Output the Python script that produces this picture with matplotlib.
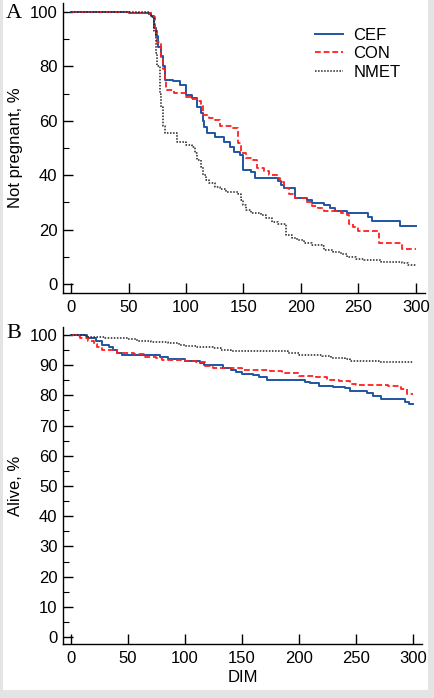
import matplotlib.pyplot as plt
from matplotlib.patches import Rectangle
from matplotlib.ticker import MultipleLocator

# Panel A: not pregnant (%) vs DIM
a_cef_x = [0, 50, 70, 72, 74, 76, 78, 80, 82, 89, 95, 100, 105, 110, 113, 115, 116, 118, 125,
           133, 138, 142, 147, 150, 157, 160, 180, 183, 185, 195, 205, 210, 220, 225, 230, 240,
           258, 262, 286, 300]
a_cef_y = [100, 99.5, 98.5, 94, 91, 87, 84, 80, 75, 74.5, 73, 69.5, 68.5, 65, 63, 60, 57.8, 55.4, 54.2,
           52.3, 50.5, 48.6, 47.4, 41.9, 41, 38.8, 38, 36.4, 35.2, 31.5, 30.9, 29.9, 29, 27.8, 26.8, 26,
           24.8, 23.2, 21.3, 21.3]

a_con_x = [0, 52, 70, 73, 75, 78, 80, 82, 83, 90, 100, 105, 110, 113, 115, 120, 125, 130, 140,
           145, 148, 152, 158, 162, 168, 172, 180, 182, 185, 190, 195, 205, 210, 215, 220, 235,
           240, 242, 245, 250, 268, 288, 300]
a_con_y = [100, 99.5, 98.3, 94, 89, 83, 79, 75, 71.3, 70.1, 68.9, 68, 67.3, 66.2, 62.1, 61, 60.3, 58.1, 57.5,
           51.7, 48, 46.4, 45.6, 42.5, 41.7, 40.1, 39.1, 37.6, 35.2, 33, 31.5, 30.3, 28.5, 27.8, 26.8, 26,
           25.4, 22.1, 21.1, 19.5, 15, 12.7, 12.7]

a_nmet_x = [0, 68, 70, 72, 74, 75, 77, 78, 80, 82, 92, 100, 105, 108, 110, 113, 115, 117, 120,
            125, 130, 135, 145, 148, 150, 152, 157, 165, 170, 175, 180, 187, 192, 197, 203, 210,
            218, 220, 228, 235, 240, 248, 255, 270, 288, 293, 300]
a_nmet_y = [100, 99, 98, 93, 85, 80, 70, 65, 58, 55.4, 52.3, 51.1, 50.5, 48, 45.6, 43.1, 40, 38.2, 37,
            35.8, 34.8, 33.9, 33.1, 30.9, 29, 27.2, 26.2, 25.4, 24.1, 22.9, 22.1, 18, 17, 16.2, 15.2, 14.3,
            14, 12.5, 11.6, 11, 10, 9.1, 8.8, 8.2, 7.8, 7, 7]

# Panel B: alive (%) vs DIM
b_cef_x = [0, 14, 22, 27, 33, 37, 40, 45, 78, 85, 100, 113, 117, 133, 140, 145, 150, 160, 165,
           172, 205, 210, 218, 230, 240, 245, 260, 265, 272, 293, 297, 300]
b_cef_y = [100, 99, 98, 96.7, 96, 95, 94.1, 93.4, 92.6, 91.9, 91.2, 90.7, 90.1, 89, 88.5, 87.8, 87.1, 86.6, 85.9,
           85.1, 84.5, 84, 83.1, 82.7, 82.3, 81.4, 80.8, 79.8, 78.9, 77.9, 77.1, 77.1]

b_con_x = [0, 5, 8, 15, 20, 23, 27, 40, 55, 65, 75, 80, 100, 110, 118, 125, 150, 175, 185, 200,
           215, 225, 235, 245, 250, 278, 290, 295, 300]
b_con_y = [100, 99.5, 99, 98, 97, 96, 95, 93.9, 93.5, 92.8, 92.4, 91.7, 91.3, 91, 89.7, 89, 88.4, 88.1, 87.5, 86.5,
           86, 85.1, 84.6, 83.9, 83.3, 83, 82.2, 80.4, 80.4]

b_nmet_x = [0, 12, 15, 30, 50, 58, 70, 85, 95, 100, 110, 125, 132, 140, 190, 200, 220, 228, 240,
            245, 270, 300]
b_nmet_y = [100, 99.7, 99.4, 98.9, 98.5, 98.1, 97.7, 97.2, 96.8, 96.4, 96, 95.6, 95, 94.5, 93.9, 93.4, 92.9, 92.3, 91.9,
            91.4, 91, 91]

labels = ['CEF', 'CON', 'NMET']
BLUE = '#1f55a3'
RED = '#ff2020'
FS = 12

plt.rcParams['font.family'] = ['Liberation Sans', 'DejaVu Sans']

fig = plt.figure(figsize=(4.34, 6.98), dpi=100, facecolor='#e4e4e4')
fig.patches.append(Rectangle((3 / 434, 8 / 698), 425 / 434, 690 / 698, transform=fig.transFigure,
                             facecolor='white', edgecolor='none', zorder=-10))

axA = fig.add_axes([63 / 434, 1 - 293 / 698, 362 / 434, 290 / 698])
axB = fig.add_axes([63 / 434, 1 - 644 / 698, 359 / 434, 317 / 698])


def style(ax, ymin, ymax, ymaj, ymin_step):
    ax.set_facecolor('none')
    for s in ['top', 'right']:
        ax.spines[s].set_visible(False)
    for s in ['left', 'bottom']:
        ax.spines[s].set_linewidth(1.0)
    ax.set_xlim(-7, 308)
    ax.set_ylim(ymin, ymax)
    ax.xaxis.set_major_locator(MultipleLocator(50))
    ax.yaxis.set_major_locator(MultipleLocator(ymaj))
    ax.yaxis.set_minor_locator(MultipleLocator(ymin_step))
    ax.tick_params(axis='both', which='major', direction='in', length=7, width=1.0, labelsize=FS, pad=4)
    ax.tick_params(axis='y', which='minor', direction='in', length=4, width=0.8)
    ax.tick_params(axis='x', pad=5)


# panel A
axA.step(a_cef_x, a_cef_y, where='post', color=BLUE, lw=1.4, label=labels[0])
axA.step(a_con_x, a_con_y, where='post', color=RED, lw=1.3, dashes=(3.2, 1.6), label=labels[1])
axA.step(a_nmet_x, a_nmet_y, where='post', color='#222222', lw=1.1, dashes=(1, 1), label=labels[2])
style(axA, -3.3, 103.3, 20, 10)
axA.set_ylabel('Not pregnant, %', fontsize=FS, labelpad=5)
axA.legend(loc='upper left', bbox_to_anchor=((315 - 63) / 362, (293 - 28) / 290), frameon=False,
           fontsize=FS, handlelength=1.65, labelspacing=0.2, handletextpad=0.65,
           borderpad=0, borderaxespad=0)
fig.text(6 / 434, 1 - 14 / 698, 'A', family='Liberation Serif', fontsize=16, va='center')

# panel B
axB.step(b_cef_x, b_cef_y, where='post', color=BLUE, lw=1.4)
axB.step(b_con_x, b_con_y, where='post', color=RED, lw=1.3, dashes=(3.2, 1.6))
axB.step(b_nmet_x, b_nmet_y, where='post', color='#222222', lw=1.1, dashes=(1, 1))
style(axB, -2.3, 102.6, 10, 5)
axB.set_ylabel('Alive, %', fontsize=FS, labelpad=5)
axB.set_xlabel('DIM', fontsize=FS, labelpad=3)
fig.text(6 / 434, 1 - 334 / 698, 'B', family='Liberation Serif', fontsize=16, va='center')

fig.savefig('out.png', dpi=100, facecolor=fig.get_facecolor())
